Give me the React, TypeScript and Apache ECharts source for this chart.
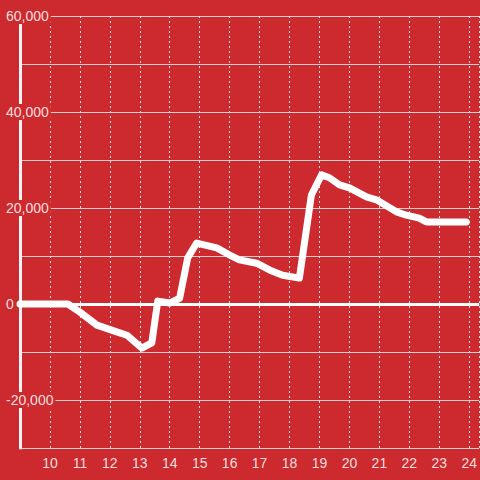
import React, { useEffect, useRef } from "react";
import * as echarts from "echarts";

const xValues = [9, 10.6, 11.0, 11.57, 12.23, 12.57, 13.07, 13.4, 13.6, 14.0, 14.33, 14.6, 14.9, 15.57, 16.0, 16.33, 16.9, 17.33, 17.77, 18.33, 18.73, 19.07, 19.33, 19.67, 20.0, 20.57, 20.9, 21.57, 21.9, 22.33, 22.57, 23.9];
const yValues = [0, 0, -1700, -4400, -5800, -6500, -9200, -8100, 600, 200, 1200, 9600, 12700, 11700, 10200, 9200, 8500, 7100, 6000, 5400, 22700, 26900, 26300, 24800, 24200, 22300, 21700, 19200, 18500, 17900, 17100, 17100];
const yTickLabels = [-20000, 0, 20000, 40000, 60000];

const BG = "#cc2a2f";
const TEXT = "#f7dede";

export default function App() {
  const ref = useRef<HTMLDivElement>(null);
  useEffect(() => {
    const chart = echarts.init(ref.current!, null, { renderer: "svg" });
    const data = xValues.map((x, i) => [x, yValues[i]]);
    chart.setOption({
      animation: false,
      backgroundColor: BG,
      grid: { left: 20, right: 0, top: 16, bottom: 32, containLabel: false },
      xAxis: {
        type: "value",
        min: 9,
        max: 24.333,
        interval: 1,
        axisLine: { show: false },
        axisTick: { show: false },
        axisLabel: {
          color: TEXT,
          fontSize: 14,
          fontFamily: "Liberation Sans, Arial, sans-serif",
          margin: 8,
          showMinLabel: false,
          formatter: (v: number) => (v === 9 ? "" : String(v)),
        },
        splitLine: { show: true, lineStyle: { color: "#e2e2e2", width: 1, type: [2, 3] } },
      },
      yAxis: {
        type: "value",
        min: -30000,
        max: 60000,
        interval: 10000,
        axisLine: { show: true, onZero: false, lineStyle: { color: "#f4f4f4", width: 3 } },
        axisTick: { show: false },
        axisLabel: {
          color: TEXT,
          fontSize: 14,
          fontFamily: "Liberation Sans, Arial, sans-serif",
          align: "left",
          margin: 15,
          backgroundColor: BG,
          padding: [1, 2, 1, 1],
          formatter: (v: number) =>
            yTickLabels.indexOf(v) >= 0 ? v.toLocaleString("en-US") : "",
        },
        splitLine: { show: true, lineStyle: { color: "#d0d0d0", width: 1 } },
      },
      series: [
        {
          type: "line",
          data,
          showSymbol: false,
          symbol: "none",
          lineStyle: { color: "#ffffff", width: 7, cap: "round", join: "round" },
          markLine: {
            silent: true,
            symbol: "none",
            label: { show: false },
            lineStyle: { color: "#ffffff", width: 3, type: "solid" },
            data: [{ yAxis: 0 }],
            z: 1,
          },
        },
      ],
    });
    return () => chart.dispose();
  }, []);
  return (
    <div
      ref={ref}
      style={{ position: "fixed", left: 0, top: 0, width: 480, height: 480 }}
    />
  );
}
